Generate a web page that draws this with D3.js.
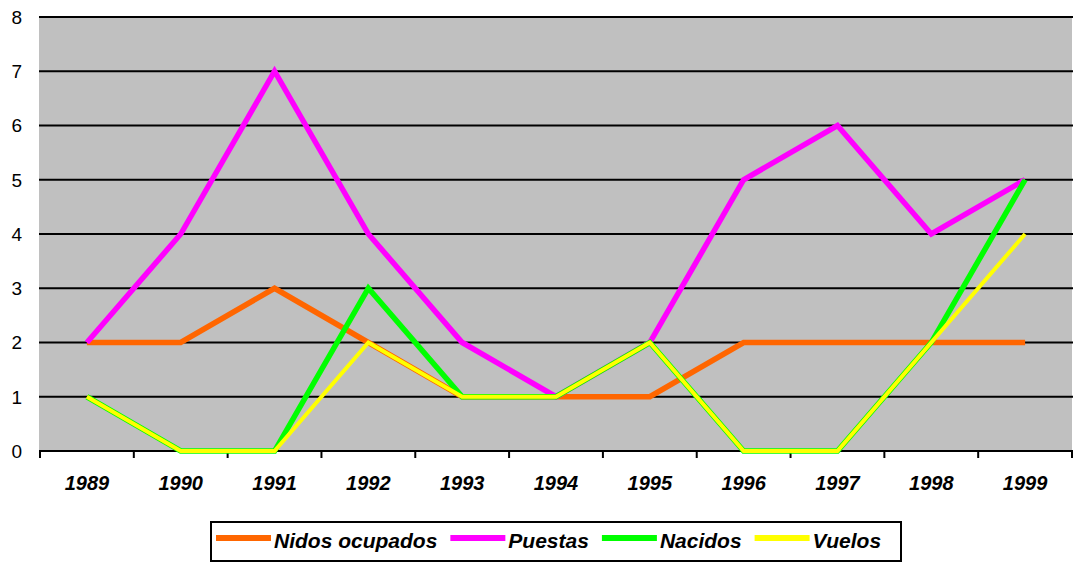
<!DOCTYPE html>
<html>
<head>
<meta charset="utf-8">
<script src="https://cdn.jsdelivr.net/npm/d3@7"></script>
<style>
  body { margin: 0; background: #fff; }
  text { font-family: "Liberation Sans", Arial, sans-serif; }
</style>
</head>
<body>
<div id="chart"></div>
<script>
// data
var years = ["1989","1990","1991","1992","1993","1994","1995","1996","1997","1998","1999"];
var nidosOcupados = [2, 2, 3, 2, 1, 1, 1, 2, 2, 2, 2];
var puestas       = [2, 4, 7, 4, 2, 1, 2, 5, 6, 4, 5];
var nacidos       = [1, 0, 0, 3, 1, 1, 2, 0, 0, 2, 5];
var vuelos        = [1, 0, 0, 2, 1, 1, 2, 0, 0, 2, 4];
var yTicks = [0, 1, 2, 3, 4, 5, 6, 7, 8];

var series = [
  {name: "Nidos ocupados", values: nidosOcupados, color: "#ff6600", w: 5.5},
  {name: "Puestas",        values: puestas,       color: "#ff00ff", w: 5.5},
  {name: "Nacidos",        values: nacidos,       color: "#00ff00", w: 5.5},
  {name: "Vuelos",         values: vuelos,        color: "#ffff00", w: 4}
];

var W = 1073, H = 563;
var margin = {top: 17, right: 1, bottom: 112, left: 40},
    width = W - margin.left - margin.right,
    height = H - margin.top - margin.bottom;

var svg = d3.select("#chart")
  .append("svg")
    .attr("width", W)
    .attr("height", H)
  .append("g")
    .attr("transform", "translate(" + margin.left + "," + margin.top + ")");

var x = d3.scaleBand()
  .domain(years)
  .range([0, width]);

var y = d3.scaleLinear()
  .domain([0, 8])
  .range([height, 0]);

// plot area
svg.append("rect")
  .attr("x", -1)
  .attr("y", 0)
  .attr("width", width + 1)
  .attr("height", height)
  .style("fill", "#c0c0c0");

// gridlines
svg.append("g")
  .selectAll("line")
  .data(yTicks)
  .enter()
  .append("line")
    .attr("x1", -1)
    .attr("x2", width + 1)
    .attr("y1", function(d) { return y(d); })
    .attr("y2", function(d) { return y(d); })
    .style("stroke", "#000")
    .style("stroke-width", 2);

// y labels
svg.append("g")
  .selectAll("text")
  .data(yTicks)
  .enter()
  .append("text")
    .attr("x", -18)
    .attr("y", function(d) { return y(d); })
    .attr("dy", "0.36em")
    .attr("text-anchor", "end")
    .style("font-size", "19px")
    .text(function(d) { return d; });

// category tick marks (between categories)
var edges = years.map(function(d) { return x(d); }).concat([width]);
svg.append("g")
  .selectAll("line")
  .data(edges)
  .enter()
  .append("line")
    .attr("x1", function(d) { return d; })
    .attr("x2", function(d) { return d; })
    .attr("y1", height)
    .attr("y2", height + 7)
    .style("stroke", "#000")
    .style("stroke-width", 2);

// x labels
svg.append("g")
  .selectAll("text")
  .data(years)
  .enter()
  .append("text")
    .attr("x", function(d) { return x(d) + x.bandwidth() / 2; })
    .attr("y", height + 39)
    .attr("text-anchor", "middle")
    .style("font-size", "20px")
    .style("font-weight", "bold")
    .style("font-style", "italic")
    .text(function(d) { return d; });

// lines
var line = d3.line()
  .x(function(d, i) { return x(years[i]) + x.bandwidth() / 2; })
  .y(function(d) { return y(d); });

series.forEach(function(s) {
  svg.append("path")
    .datum(s.values)
    .attr("d", line)
    .style("fill", "none")
    .style("stroke", s.color)
    .style("stroke-width", s.w)
    .style("stroke-linejoin", "miter");
});

// legend
var legend = d3.select("svg").append("g");
legend.append("rect")
  .attr("x", 211)
  .attr("y", 522)
  .attr("width", 690)
  .attr("height", 39)
  .style("fill", "#fff")
  .style("stroke", "#000")
  .style("stroke-width", 2);

var lx = 216;
series.forEach(function(s) {
  var item = legend.append("g").attr("transform", "translate(" + lx + ",0)");
  item.append("line")
    .attr("x1", 0).attr("x2", 55)
    .attr("y1", 538).attr("y2", 538)
    .style("stroke", s.color)
    .style("stroke-width", 6);
  var t = item.append("text")
    .attr("x", 58)
    .attr("y", 548)
    .style("font-size", "21px")
    .style("font-weight", "bold")
    .style("font-style", "italic")
    .text(s.name);
  lx += 58 + t.node().getComputedTextLength() + 13;
});
</script>
</body>
</html>
